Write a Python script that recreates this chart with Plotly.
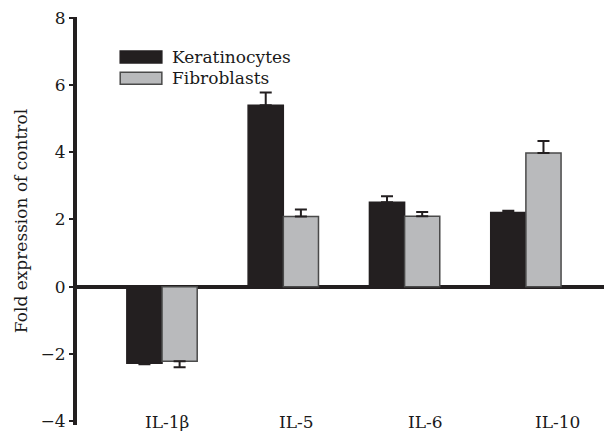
import plotly.graph_objects as go

# Cytokine expression relative to control
categories = ["IL-1β", "IL-5", "IL-6", "IL-10"]
series_names = ["Keratinocytes", "Fibroblasts"]
keratinocytes = [-2.28, 5.40, 2.51, 2.21]
keratinocytes_err = [0.03, 0.38, 0.18, 0.05]
fibroblasts = [-2.22, 2.09, 2.10, 3.98]
fibroblasts_err = [0.18, 0.21, 0.12, 0.36]
y_ticks = [-4, -2, 0, 2, 4, 6, 8]

FONT = "DejaVu Serif"
DARK = "#231f20"
GREY = "#b9babc"
GREY_EDGE = "#4a4a4a"
TXT = "#1a1a1a"

x_pos = list(range(len(categories)))


def one_sided(values, errs):
    up = [e if v >= 0 else 0 for v, e in zip(values, errs)]
    down = [e if v < 0 else 0 for v, e in zip(values, errs)]
    return up, down


fig = go.Figure()
for name, vals, errs, fill, edge in [
    (series_names[0], keratinocytes, keratinocytes_err, DARK, DARK),
    (series_names[1], fibroblasts, fibroblasts_err, GREY, GREY_EDGE),
]:
    up, down = one_sided(vals, errs)
    fig.add_trace(go.Bar(
        x=x_pos, y=vals, name=name,
        marker=dict(color=fill, line=dict(color=edge, width=1.5)),
        error_y=dict(type="data", symmetric=False, array=up, arrayminus=down,
                     color=DARK, thickness=2, width=6),
        showlegend=False,
    ))

# category labels sit level with the bottom of the value axis
label_shift = [0.04, 1.11, 2.17, 3.26]
for lx, cat in zip(label_shift, categories):
    fig.add_annotation(x=lx, y=-4, xref="x", yref="y", text=cat,
                       showarrow=False, yanchor="middle", yshift=-1,
                       font=dict(family=FONT, size=17, color=TXT))

# legend: wide swatches with labels
legend_rows = [(series_names[0], DARK, DARK, 0.902), (series_names[1], GREY, GREY_EDGE, 0.850)]
for name, fill, edge, yc in legend_rows:
    fig.add_shape(type="rect", xref="paper", yref="paper",
                  x0=0.082, x1=0.161, y0=yc - 0.0147, y1=yc + 0.0147,
                  fillcolor=fill, line=dict(color=edge, width=1.5))
    fig.add_annotation(xref="paper", yref="paper", x=0.176, y=yc, text=name,
                       showarrow=False, xanchor="left", yanchor="middle",
                       font=dict(family=FONT, size=17, color=TXT))

fig.update_layout(
    width=604, height=431,
    margin=dict(l=77, r=0, t=17, b=6),
    paper_bgcolor="white", plot_bgcolor="white",
    barmode="group", bargap=0.42, bargroupgap=0,
    font=dict(family=FONT, size=17, color=TXT),
    xaxis=dict(range=[-0.701, 3.644], showticklabels=False, showline=False,
               showgrid=False, zeroline=False, ticks=""),
    yaxis=dict(range=[-4.12, 8.03], tickvals=y_ticks, showgrid=False,
               showline=True, linecolor=DARK, linewidth=4,
               ticks="outside", ticklen=4, tickwidth=2, tickcolor=DARK,
               zeroline=True, zerolinecolor=DARK, zerolinewidth=4,
               tickfont=dict(family=FONT, size=17, color=TXT),
               title=dict(text="Fold expression of control", standoff=10,
                          font=dict(family=FONT, size=17, color=TXT))),
)

fig.write_html("out.html")
